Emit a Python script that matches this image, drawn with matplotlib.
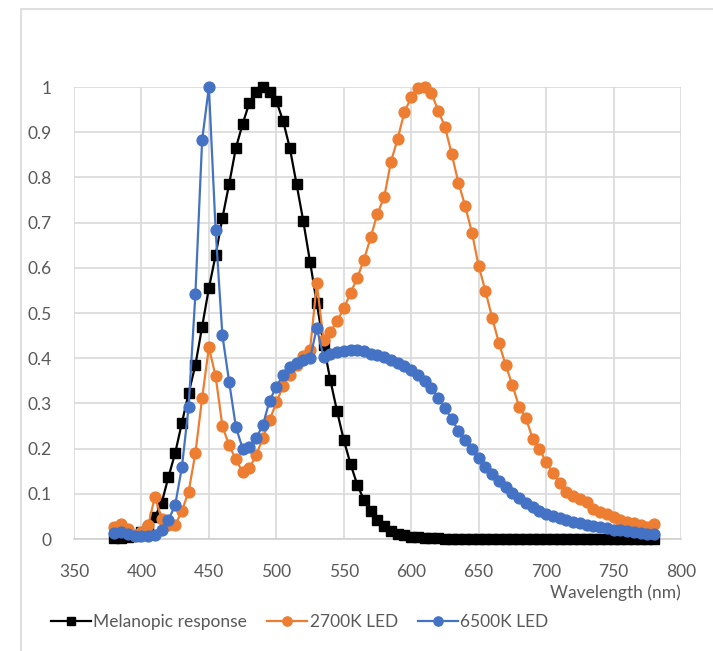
import numpy as np
import matplotlib
matplotlib.use("Agg")
import matplotlib.pyplot as plt
from matplotlib.patches import Rectangle

plt.rcParams['font.family'] = ['Lato', 'DejaVu Sans']

wavelength = list(range(380, 781, 5))

melanopic = [0.002, 0.003, 0.004, 0.006, 0.015, 0.024, 0.049, 0.08, 0.137, 0.19,
             0.257, 0.323, 0.385, 0.47, 0.555, 0.628, 0.71, 0.785, 0.865, 0.918,
             0.965, 0.99, 1.0, 0.99, 0.969, 0.925, 0.865, 0.785, 0.703, 0.613,
             0.522, 0.43, 0.352, 0.283, 0.219, 0.166, 0.12, 0.086, 0.062, 0.042,
             0.028, 0.018, 0.012, 0.008, 0.005, 0.004, 0.003, 0.002, 0.0015, 0.001,
             0.001, 0.001, 0.001, 0.0, 0.0, 0.0, 0.0, 0.0, 0.0, 0.0,
             0.0, 0.0, 0.0, 0.0, 0.0, 0.0, 0.0, 0.0, 0.0, 0.0,
             0.0, 0.0, 0.0, 0.0, 0.0, 0.0, 0.0, 0.0, 0.0, 0.0, 0.0]

led_2700k = [0.027, 0.033, 0.022, 0.009, 0.016, 0.03, 0.094, 0.045, 0.03, 0.031,
             0.062, 0.105, 0.19, 0.312, 0.424, 0.36, 0.25, 0.207, 0.176, 0.148,
             0.157, 0.185, 0.223, 0.263, 0.302, 0.338, 0.362, 0.385, 0.405, 0.418,
             0.566, 0.44, 0.458, 0.482, 0.51, 0.544, 0.578, 0.618, 0.668, 0.72,
             0.757, 0.835, 0.886, 0.945, 0.977, 0.997, 1.0, 0.986, 0.948, 0.912,
             0.852, 0.788, 0.737, 0.678, 0.604, 0.549, 0.489, 0.434, 0.385, 0.34,
             0.293, 0.268, 0.222, 0.2, 0.17, 0.147, 0.125, 0.105, 0.095, 0.088,
             0.082, 0.066, 0.06, 0.055, 0.048, 0.042, 0.038, 0.035, 0.03, 0.027, 0.033]

led_6500k = [0.013, 0.016, 0.01, 0.007, 0.006, 0.006, 0.008, 0.02, 0.042, 0.075,
             0.159, 0.293, 0.542, 0.883, 1.0, 0.683, 0.451, 0.348, 0.248, 0.2,
             0.204, 0.223, 0.252, 0.306, 0.337, 0.363, 0.381, 0.39, 0.396, 0.4,
             0.467, 0.403, 0.41, 0.413, 0.417, 0.418, 0.418, 0.415, 0.41, 0.407,
             0.402, 0.397, 0.39, 0.383, 0.374, 0.362, 0.35, 0.334, 0.313, 0.29,
             0.265, 0.24, 0.22, 0.2, 0.18, 0.16, 0.143, 0.128, 0.115, 0.102,
             0.09, 0.08, 0.07, 0.062, 0.056, 0.051, 0.046, 0.042, 0.038, 0.035,
             0.032, 0.029, 0.026, 0.024, 0.021, 0.019, 0.017, 0.015, 0.013, 0.012, 0.011]

x_ticks = [350, 400, 450, 500, 550, 600, 650, 700, 750, 800]
y_ticks = [0, 0.1, 0.2, 0.3, 0.4, 0.5, 0.6, 0.7, 0.8, 0.9, 1]
y_labels = ['0', '0.1', '0.2', '0.3', '0.4', '0.5', '0.6', '0.7', '0.8', '0.9', '1']

W, H = 713, 651
fig = plt.figure(figsize=(W / 100, H / 100), dpi=100)

# light chart frame, cut off at right and bottom
fig.patches.append(Rectangle((21 / W, -0.1), 1.2, 1 - 9 / H + 0.1, transform=fig.transFigure,
                             fill=False, edgecolor='#d9d9d9', linewidth=1.2))

ax = fig.add_axes([74 / W, (H - 539) / H, (681 - 74) / W, (539 - 87) / H])

ax.plot(wavelength, melanopic, color='black', marker='s', markersize=6.5,
        linewidth=1.6, label='Melanopic response', clip_on=False, zorder=3)
ax.plot(wavelength, led_2700k, color='#ED7D31', marker='o', markersize=7.8,
        linewidth=1.6, label='2700K LED', clip_on=False, zorder=4)
ax.plot(wavelength, led_6500k, color='#4472C4', marker='o', markersize=7.8,
        linewidth=1.6, label='6500K LED', clip_on=False, zorder=5)

ax.set_xlim(350, 800)
ax.set_ylim(0, 1)
ax.set_xticks(x_ticks)
ax.set_yticks(y_ticks)
ax.set_yticklabels(y_labels)
ax.grid(True, color='#d9d9d9', linewidth=1.2)
ax.set_axisbelow(True)
for side in ['left', 'right', 'top']:
    ax.spines[side].set_visible(False)
ax.spines['bottom'].set_color('#d0d0d0')
ax.spines['bottom'].set_linewidth(1.2)
ax.tick_params(length=0, labelsize=12.5, colors='#595959')
ax.tick_params(axis='x', pad=18)
ax.tick_params(axis='y', pad=16)

ax.set_xlabel('Wavelength (nm)', fontsize=12.5, color='#595959', loc='right', labelpad=3)

fig.legend(loc='center left', bbox_to_anchor=(35 / W, 1 - 622 / H), ncol=3, frameon=False,
           fontsize=12.5, labelcolor='#595959', handlelength=2.3, handletextpad=0.15,
           columnspacing=1.15, markerscale=0.85)

fig.savefig('out.png', dpi=100)
